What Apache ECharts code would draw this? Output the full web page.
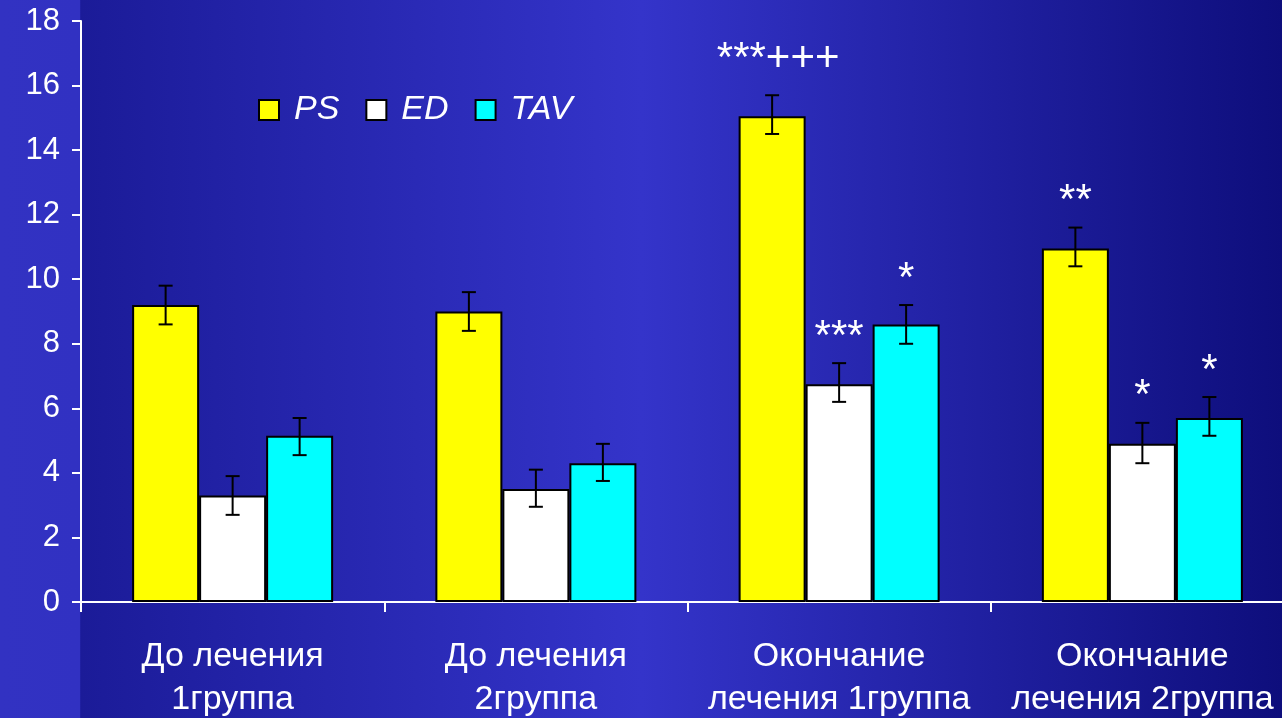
<!DOCTYPE html>
<html>
<head>
<meta charset="utf-8">
<script src="https://cdn.jsdelivr.net/npm/echarts@6/dist/echarts.min.js"></script>
<style>
  html, body { margin: 0; padding: 0; }
  #chart { width: 1282px; height: 718px; }
</style>
</head>
<body>
<div id="chart"></div>
<script>
// категории и данные
var categories = ['До лечения\n1группа', 'До лечения\n2группа', 'Окончание\nлечения 1группа', 'Окончание\nлечения 2группа'];
var seriesNames = ['PS', 'ED', 'TAV'];
var colors = ['#ffff00', '#ffffff', '#00ffff'];

var psValues  = [9.2, 9.0, 15.05, 10.95];
var edValues  = [3.3, 3.5, 6.75, 4.9];
var tavValues = [5.15, 4.3, 8.6, 5.7];

// ошибки (низ, верх)
var psLow  = [8.6, 8.4, 14.5, 10.4];
var psHigh = [9.8, 9.6, 15.7, 11.6];
var edLow  = [2.7, 2.95, 6.2, 4.3];
var edHigh = [3.9, 4.1, 7.4, 5.55];
var tavLow  = [4.55, 3.75, 8.0, 5.15];
var tavHigh = [5.7, 4.9, 9.2, 6.35];

// значимость
var psMarks  = ['', '', '***+++', '**'];
var edMarks  = ['', '', '***', '*'];
var tavMarks = ['', '', '*', '*'];

var yTicks = [0, 18, 2]; // min, max, шаг

var values = [psValues, edValues, tavValues];
var lows = [psLow, edLow, tavLow];
var highs = [psHigh, edHigh, tavHigh];
var marks = [psMarks, edMarks, tavMarks];

var BAR_W = 67;

var chart = echarts.init(document.getElementById('chart'));

var series = [];
seriesNames.forEach(function (name, i) {
  series.push({
    name: name,
    type: 'bar',
    barWidth: BAR_W,
    barGap: '0%',
    itemStyle: { color: colors[i], borderColor: '#000', borderWidth: 2 },
    data: values[i]
  });
});
seriesNames.forEach(function (name, i) {
  var offset = (i - 1) * BAR_W;
  series.push({
    type: 'custom',
    z: 10,
    silent: true,
    encode: { x: 0, y: [1, 2] },
    data: categories.map(function (c, k) { return [k, lows[i][k], highs[i][k]]; }),
    renderItem: function (params, api) {
      var k = api.value(0);
      var top = api.coord([k, api.value(2)]);
      var bot = api.coord([k, api.value(1)]);
      var x = top[0] + offset;
      var st = { stroke: '#000', lineWidth: 2 };
      var children = [
        { type: 'line', shape: { x1: x, y1: top[1], x2: x, y2: bot[1] }, style: st },
        { type: 'line', shape: { x1: x - 7, y1: top[1], x2: x + 7, y2: top[1] }, style: st },
        { type: 'line', shape: { x1: x - 7, y1: bot[1], x2: x + 7, y2: bot[1] }, style: st }
      ];
      var txt = marks[i][params.dataIndex];
      if (txt) {
        var long = txt.length > 3;
        children.push({
          type: 'text',
          style: {
            text: txt, x: x + (long ? 6 : 0), y: top[1] - (long ? 36 : 26),
            fill: '#fff', font: '42px "Liberation Sans", Arial, sans-serif',
            align: 'center', verticalAlign: 'middle'
          }
        });
      }
      return { type: 'group', children: children };
    }
  });
});

var option = {
  backgroundColor: {
    type: 'linear', x: 0, y: 0, x2: 1, y2: 0,
    colorStops: [
      { offset: 0, color: '#3232c2' },
      { offset: 0.062, color: '#3131c2' },
      { offset: 0.063, color: '#1b1b98' },
      { offset: 0.5, color: '#3434ca' },
      { offset: 1, color: '#0e0e7c' }
    ]
  },
  textStyle: { fontFamily: '"Liberation Sans", Arial, sans-serif' },
  legend: {
    data: seriesNames,
    icon: 'rect',
    left: 253,
    top: 88,
    itemWidth: 20,
    itemHeight: 20,
    itemGap: 26,
    textStyle: { color: '#fff', fontSize: 34, fontStyle: 'italic', padding: [0, 0, 0, 10] }
  },
  grid: { left: 81, top: 21, right: -12, bottom: 116, outerBoundsMode: 'none' },
  xAxis: {
    type: 'category',
    data: categories,
    axisLine: { lineStyle: { color: '#fff', width: 2 } },
    axisTick: { show: true, length: 10, lineStyle: { color: '#fff', width: 2 } },
    axisLabel: { color: '#fff', fontSize: 34, lineHeight: 43, margin: 33, interval: 0 }
  },
  yAxis: {
    type: 'value',
    min: yTicks[0],
    max: yTicks[1],
    interval: yTicks[2],
    splitLine: { show: false },
    axisLine: { show: true, lineStyle: { color: '#fff', width: 2 } },
    axisTick: { show: true, length: 9, lineStyle: { color: '#fff', width: 2 } },
    axisLabel: { color: '#fff', fontSize: 31, margin: 21 }
  },
  series: series
};

chart.setOption(option);
</script>
</body>
</html>
